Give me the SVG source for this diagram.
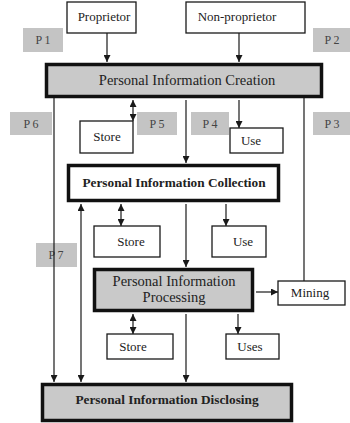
<svg xmlns="http://www.w3.org/2000/svg" width="350" height="423" viewBox="0 0 350 423">
  <style>
    .box { fill: #ffffff; stroke: #1a1a1a; stroke-width: 1.3; }
    .stage { fill: #c9c9c9; stroke: #111111; stroke-width: 3.5; }
    .stage-w { fill: #ffffff; stroke: #111111; stroke-width: 3.5; }
    .tag { fill: #c4c4c4; stroke: none; }
    text { font-family: "Liberation Serif", "DejaVu Serif", "Times New Roman", serif; text-anchor: middle; }
    .lbl { font-size: 13px; fill: #222222; }
    .big { font-size: 14.5px; fill: #222222; }
    .head { font-size: 13.3px; font-weight: bold; fill: #222222; }
    .tagtxt { font-size: 12px; fill: #444444; }
    .wire { fill: none; stroke: #1a1a1a; stroke-width: 1.2; }
  </style>
  <defs>
    <marker id="head" viewBox="0 0 10 10" refX="10" refY="5" markerWidth="7" markerHeight="7" orient="auto-start-reverse" markerUnits="userSpaceOnUse">
      <path d="M0,0 L10,5 L0,10 z" fill="#1a1a1a"/>
    </marker>
  </defs>

  <rect width="350" height="423" fill="#ffffff"/>

  <!-- phase tags -->
  <g id="tags">
    <rect class="tag" x="23" y="28" width="40" height="24"/><text class="tagtxt" x="43" y="44">P 1</text>
    <rect class="tag" x="313" y="28" width="37" height="24"/><text class="tagtxt" x="332" y="44">P 2</text>
    <rect class="tag" x="10" y="112" width="42" height="23"/><text class="tagtxt" x="31" y="128">P 6</text>
    <rect class="tag" x="137" y="112" width="40" height="23"/><text class="tagtxt" x="157" y="128">P 5</text>
    <rect class="tag" x="191" y="112" width="38" height="23"/><text class="tagtxt" x="210" y="128">P 4</text>
    <rect class="tag" x="313" y="112" width="37" height="23"/><text class="tagtxt" x="332" y="128">P 3</text>
    <rect class="tag" x="36" y="243" width="41" height="24"/><text class="tagtxt" x="56" y="259">P 7</text>
  </g>

  <!-- connectors -->
  <g id="connectors">
    <line class="wire" x1="107" y1="33" x2="107" y2="62" marker-end="url(#head)"/>
    <line class="wire" x1="239" y1="33" x2="239" y2="62" marker-end="url(#head)"/>
    <line class="wire" x1="133" y1="100" x2="133" y2="121" marker-start="url(#head)" marker-end="url(#head)"/>
    <line class="wire" x1="239" y1="100" x2="239" y2="128" marker-end="url(#head)"/>
    <line class="wire" x1="186" y1="100" x2="186" y2="163" marker-end="url(#head)"/>
    <line class="wire" x1="54" y1="86" x2="54" y2="382" marker-end="url(#head)"/>
    <line class="wire" x1="81" y1="204" x2="81" y2="382" marker-start="url(#head)" marker-end="url(#head)"/>
    <line class="wire" x1="121" y1="204" x2="121" y2="226" marker-start="url(#head)" marker-end="url(#head)"/>
    <line class="wire" x1="226" y1="204" x2="226" y2="226" marker-end="url(#head)"/>
    <line class="wire" x1="186" y1="204" x2="186" y2="267" marker-end="url(#head)"/>
    <line class="wire" x1="256" y1="292" x2="278" y2="292" marker-end="url(#head)"/>
    <line class="wire" x1="304" y1="281" x2="304" y2="86" marker-end="url(#head)"/>
    <line class="wire" x1="133" y1="314" x2="133" y2="334" marker-start="url(#head)" marker-end="url(#head)"/>
    <line class="wire" x1="238" y1="314" x2="238" y2="334" marker-end="url(#head)"/>
    <line class="wire" x1="186" y1="314" x2="186" y2="382" marker-end="url(#head)"/>
  </g>

  <g id="proprietor">
    <rect class="box" x="67" y="2" width="69" height="31"/>
    <text class="lbl" x="104" y="21">Proprietor</text>
  </g>
  <g id="non-proprietor">
    <rect class="box" x="186" y="2" width="119" height="31"/>
    <text class="lbl" x="237" y="21">Non-proprietor</text>
  </g>

  <g id="creation">
    <rect class="stage" x="46.5" y="64.5" width="275" height="32"/>
    <text class="big" x="187" y="85">Personal Information Creation</text>
  </g>

  <g id="store-1">
    <rect class="box" x="80" y="121" width="53" height="32"/>
    <text class="lbl" x="107" y="141">Store</text>
  </g>
  <g id="use-1">
    <rect class="box" x="230" y="128" width="53" height="25"/>
    <text class="lbl" x="251" y="145">Use</text>
  </g>

  <g id="collection">
    <rect class="stage-w" x="68.5" y="165.5" width="210" height="35"/>
    <text class="head" x="174" y="187">Personal Information Collection</text>
  </g>

  <g id="store-2">
    <rect class="box" x="94" y="226" width="66" height="31"/>
    <text class="lbl" x="131" y="246">Store</text>
  </g>
  <g id="use-2">
    <rect class="box" x="212" y="226" width="54" height="31"/>
    <text class="lbl" x="243" y="246">Use</text>
  </g>

  <g id="processing">
    <rect class="stage" x="94.5" y="269.5" width="158" height="41"/>
    <text class="big" x="174" y="286">Personal Information</text>
    <text class="big" x="174" y="302">Processing</text>
  </g>

  <g id="mining">
    <rect class="box" x="278" y="281" width="67" height="24"/>
    <text class="lbl" x="310" y="297">Mining</text>
  </g>

  <g id="store-3">
    <rect class="box" x="107" y="334" width="66" height="25"/>
    <text class="lbl" x="133" y="351">Store</text>
  </g>
  <g id="uses">
    <rect class="box" x="226" y="334" width="53" height="25"/>
    <text class="lbl" x="250" y="351">Uses</text>
  </g>

  <g id="disclosing">
    <rect class="stage" x="42.5" y="384.5" width="249" height="36"/>
    <text class="head" x="167" y="404">Personal Information Disclosing</text>
  </g>
</svg>
